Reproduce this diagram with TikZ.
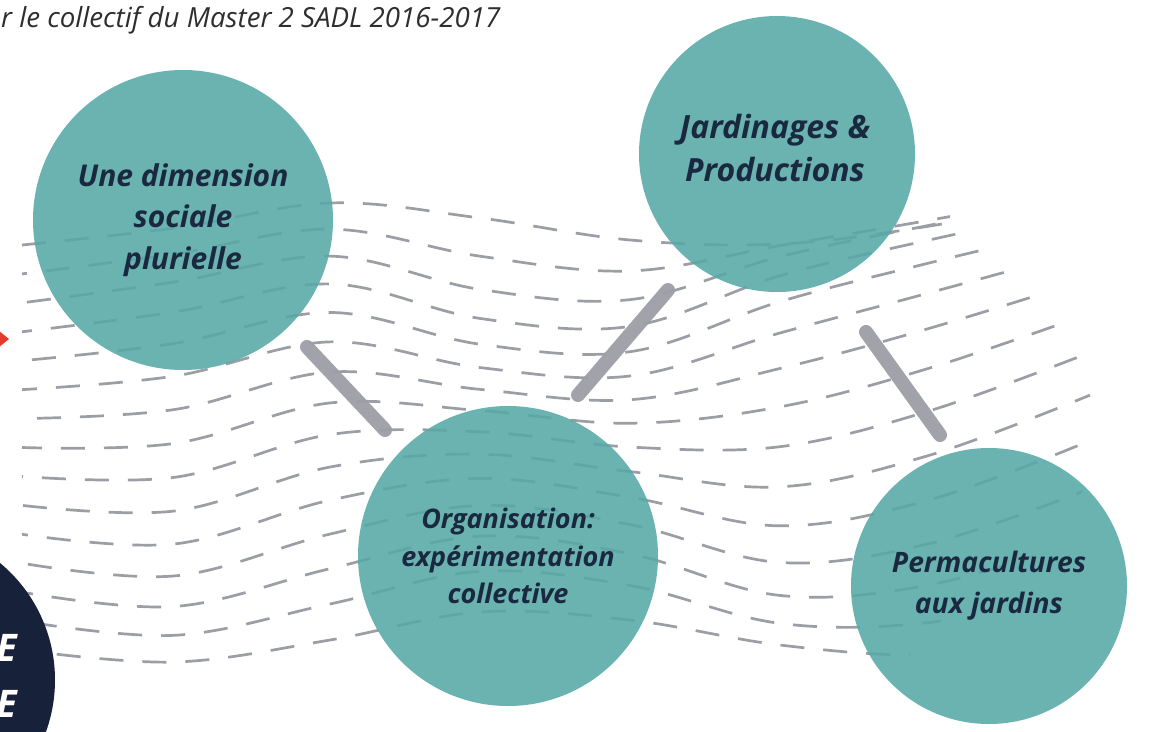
\documentclass[tikz,border=0pt]{standalone}
\usepackage{fontspec}
\setmainfont{Open Sans}
\usetikzlibrary{calc}
\definecolor{tealc}{HTML}{56A9A7}
\definecolor{navytxt}{HTML}{1A2940}
\definecolor{navyc}{HTML}{17213A}
\definecolor{barg}{HTML}{A2A3AA}
\definecolor{dashg}{HTML}{9C9EA5}
\definecolor{redc}{HTML}{E8392B}
\definecolor{hdrc}{HTML}{2E2E2E}
\newcommand\gY[4]{\la*(#1)+\lb*(#2)+\lc*(#3)+\ld*(#4)}
\begin{document}
\begin{tikzpicture}[x=1pt,y=-1pt,
  bubble/.style={circle, inner sep=0pt, fill=tealc, fill opacity=0.88, text opacity=1,
                 text=navytxt, align=center},
  bar/.style={line width=14pt, line cap=round, draw=barg},
  dashline/.style={draw=dashg, line width=2.7pt, dash pattern=on 24pt off 19pt}]
\useasboundingbox (0,0) rectangle (1162,731);
\fill[white] (0,0) rectangle (1162,731);

% connector end points
\coordinate (b1s) at (307,347); \coordinate (b1e) at (385,430);
\coordinate (b2s) at (578,395); \coordinate (b2e) at (668,290);
\coordinate (b3s) at (866,332); \coordinate (b3e) at (940,435);
\draw[bar] (b1s) -- (b1e);
\draw[bar] (b2s) -- (b2e);
\draw[bar] (b3s) -- (b3e);

% dashed wave field
\begin{scope}
\clip (0,0) -- (950,0) -- (950,222) -- (1000,250) -- (1040,300) -- (1092,380)
      -- (1092,470) -- (1060,540) -- (960,600) -- (905,660) -- (905,731) -- (0,731) -- cycle;
\foreach \i in {0,...,14}{
  \pgfmathsetmacro\v{\i/14}
  \pgfmathsetmacro\la{-4.5*(\v-1/3)*(\v-2/3)*(\v-1)}
  \pgfmathsetmacro\lb{13.5*\v*(\v-2/3)*(\v-1)}
  \pgfmathsetmacro\lc{-13.5*\v*(\v-1/3)*(\v-1)}
  \pgfmathsetmacro\ld{4.5*\v*(\v-1/3)*(\v-2/3)}
  \pgfmathsetmacro\ph{mod(\i*19,43)}
  \draw[dashline, dash phase=\ph pt] plot[smooth, tension=0.6] coordinates {
    (22,{\gY{245}{380}{515}{650}})
    (175,{\gY{228}{365}{522}{662}})
    (330,{\gY{203}{332}{478}{640}})
    (480,{\gY{218}{360}{462}{612}})
    (630,{\gY{240}{368}{480}{620}})
    (780,{\gY{244}{322}{500}{645}})
    (930,{\gY{226}{282}{470}{655}})
    (1090,{\gY{195}{240}{410}{640}})};
}
\end{scope}

% circles
\node[bubble, minimum size=300pt, font=\fontsize{30}{41.5}\selectfont\bfseries\itshape]
  (soc) at (183,220) {Une dimension\\sociale\\plurielle};
\node[bubble, minimum size=276pt] (jar) at (777,154) {};
\node[text=navytxt, align=center, font=\fontsize{32}{43}\selectfont\bfseries\itshape]
  (jart) at (775,148) {Jardinages \&\\Productions};
\node[bubble, minimum size=300pt, font=\fontsize{27}{37.5}\selectfont\bfseries\itshape]
  (org) at (508,556) {Organisation:\\expérimentation\\collective};
\node[bubble, minimum size=276pt, font=\fontsize{28.2}{41}\selectfont\bfseries\itshape]
  (per) at (989,586) {Permacultures\\aux jardins};

% left edge elements
\fill[redc] (-12,322) -- (9,339) -- (-12,356) -- cycle;
\node[circle, fill=navyc, minimum size=304pt, inner sep=0pt] (dark) at (-97,680) {};
\node[anchor=base east, inner sep=0pt, text=white,
      font=\fontsize{38}{40}\selectfont\bfseries\itshape] (e1) at (17,661) {E};
\node[anchor=base east, inner sep=0pt, text=white,
      font=\fontsize{38}{40}\selectfont\bfseries\itshape] (e2) at (17,717) {E};

% header
\node[anchor=base west, inner sep=0pt, text=hdrc, font=\fontsize{27.7}{32}\selectfont\itshape]
  (hdr) at (1,27) {r le collectif du Master 2 SADL 2016-2017};
\end{tikzpicture}
\end{document}
